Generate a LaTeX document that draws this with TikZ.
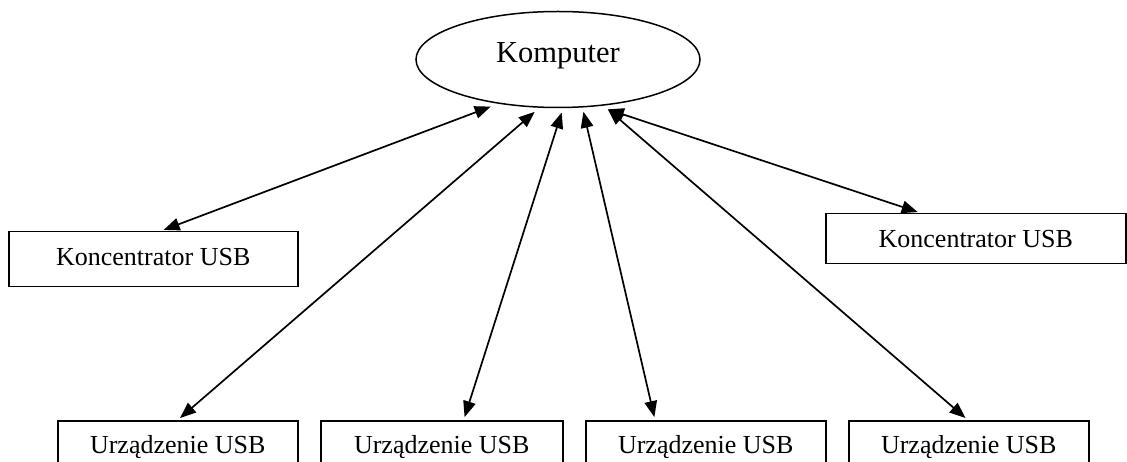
\documentclass[tikz,border=0pt]{standalone}
\usepackage{fontspec}
\setmainfont{Liberation Serif}
\usetikzlibrary{arrows.meta,calc,shapes.geometric}

\tikzset{
  hub/.style={draw, line width=1.5pt, ellipse, inner sep=0pt, outer sep=5pt,
    minimum width=284pt, minimum height=96pt,
    text height=20pt, text depth=13pt,
    font=\fontsize{30.5}{36}\selectfont},
  devbox/.style={draw, line width=1.5pt, rectangle, inner xsep=0pt, inner ysep=0pt,
    anchor=north west, font=\fontsize{26}{31}\selectfont},
  link/.style={line width=1.7pt,
    {Triangle[length=16pt,width=12.5pt]}-{Triangle[length=16pt,width=12.5pt]},
    shorten <=3pt}
}

\begin{document}
\begin{tikzpicture}[x=1pt,y=-1pt]
  \useasboundingbox (0,0) rectangle (1127,462);
  \clip (0,0) rectangle (1127,462);

  % central computer
  \node[hub] (comp) at (558,59.5) {Komputer};

  % hubs
  \node[devbox, minimum width=289pt, text height=34pt, text depth=21pt]
    (k1) at (8,231) {Koncentrator USB};
  \node[devbox, minimum width=300pt, text height=34pt, text depth=16pt]
    (k2) at (825,213) {Koncentrator USB};

  % devices (boxes run past the lower edge)
  \node[devbox, minimum width=240pt, text height=33pt, text depth=40pt]
    (u1) at (57,420) {Urządzenie USB};
  \node[devbox, minimum width=242pt, text height=33pt, text depth=40pt]
    (u2) at (320,420) {Urządzenie USB};
  \node[devbox, minimum width=240pt, text height=33pt, text depth=40pt]
    (u3) at (585,420) {Urządzenie USB};
  \node[devbox, minimum width=240pt, text height=33pt, text depth=40pt]
    (u4) at (848,420) {Urządzenie USB};

  % bidirectional links to the computer
  \draw[link] ($(k1.north west)!0.526!(k1.north east)$) -- (comp.215.4);
  \draw[link] ($(u1.north west)!0.5!(u1.north east)$) -- (comp.246.7);
  \draw[link] ($(u2.north west)!0.59!(u2.north east)$) -- (comp.274.3);
  \draw[link] ($(u3.north west)!0.29!(u3.north east)$) -- (comp.296.8);
  \draw[link] ($(u4.north west)!0.496!(u4.north east)$) -- (comp.315.8);
  \draw[link] ($(k2.north west)!0.317!(k2.north east)$) -- (comp.315.8);
\end{tikzpicture}
\end{document}
